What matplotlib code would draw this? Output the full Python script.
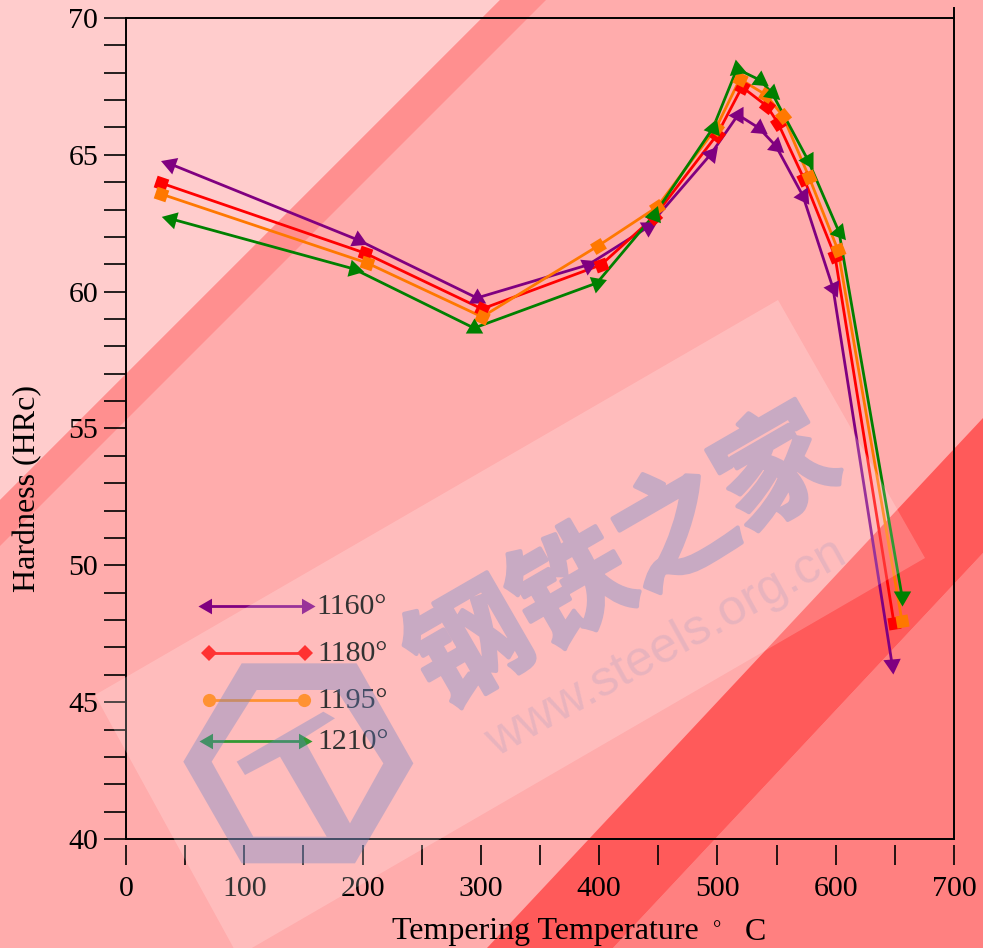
import math
import matplotlib
matplotlib.use('Agg')
import matplotlib.pyplot as plt
import matplotlib.patches as patches
import matplotlib.patheffects as pe
from matplotlib.path import Path
from matplotlib.ticker import MultipleLocator

plt.rcParams['font.family'] = ['Liberation Serif', 'DejaVu Sans']

W, H = 983, 948

# Valores
temp_1160 = [37.2, 196.1, 296.7, 390.6, 441.3, 494.5, 517.4, 535.1, 549.5, 572.3, 597.7, 647.6]
hard_1160 = [64.67, 61.89, 59.77, 60.98, 62.36, 65.03, 66.46, 65.98, 65.32, 63.5, 60.13, 46.4]
temp_1180 = [29.6, 202.0, 301.0, 401.6, 446.4, 499.6, 520.8, 541.9, 551.2, 573.2, 599.4, 649.2]
hard_1180 = [63.97, 61.41, 59.37, 60.98, 62.73, 65.73, 67.48, 66.78, 66.16, 64.12, 61.3, 47.9]
temp_1195 = [29.6, 203.7, 301.0, 399.0, 448.9, 498.8, 519.0, 541.0, 555.4, 577.4, 601.9, 656.0]
hard_1195 = [63.57, 61.05, 59.08, 61.67, 63.09, 65.98, 67.77, 67.19, 66.42, 64.19, 61.52, 47.97]
temp_1210 = [38.0, 192.7, 294.2, 398.2, 446.4, 496.2, 516.5, 536.0, 546.1, 576.5, 602.8, 656.0]
hard_1210 = [62.66, 60.83, 58.67, 60.32, 62.8, 65.98, 68.14, 67.73, 67.26, 64.81, 62.18, 48.88]

legend_labels = ['1160°', '1180°', '1195°', '1210°']
x_tick_labels = ['0', '100', '200', '300', '400', '500', '600', '700']
y_tick_labels = ['40', '45', '50', '55', '60', '65', '70']

# Hacia donde apunta cada triangulo (grados en pantalla)
giro_1160 = [160, 95, 90, -95, -90, 50, 60, -35, -40, -55, -65, -85]
giro_1210 = [165, -14, 90, 20, 190, 190, 100, -35, -40, 180, 190, -90]

morado, rojo, naranja, verde = 'purple', 'red', '#ff7800', 'green'
grosor = 2.0

fig = plt.figure(figsize=(W / 100, H / 100), dpi=100, facecolor='#ffacac')

# Fondo con las bandas diagonales, en pixeles
fondo = fig.add_axes([0, 0, 1, 1], zorder=0)
fondo.set_xlim(0, W)
fondo.set_ylim(H, 0)
fondo.axis('off')
fondo.add_patch(patches.Polygon([(0, 0), (500, 0), (0, 500)], fc='#ffcccc', ec='none'))
fondo.add_patch(patches.Polygon([(500, 0), (546, 0), (0, 546), (0, 500)], fc='#ff8f8f', ec='none'))
fondo.add_patch(patches.Polygon([(983, 553), (983, 948), (613, 948)], fc='#ff8080', ec='none'))
fondo.add_patch(patches.Polygon([(983, 418), (983, 553), (613, 948), (487, 948)], fc='#ff5a5a', ec='none'))

# Ejes
ax = fig.add_axes([126 / W, (H - 839) / H, 828 / W, 821 / H], zorder=1)
ax.patch.set_alpha(0)
ax.set_xlim(0, 700)
ax.set_ylim(40, 70)
for s in ax.spines.values():
    s.set_linewidth(1.4)
ax.plot([1, 1], [1, 1.012], color='black', lw=1.4, transform=ax.transAxes, clip_on=False)

ax.yaxis.set_major_locator(MultipleLocator(5))
ax.yaxis.set_minor_locator(MultipleLocator(1))
ax.set_yticks(range(40, 71, 5), y_tick_labels, fontsize=21.5)
ax.tick_params(axis='y', which='both', length=16, width=1.2, pad=4)
ax.tick_params(axis='x', which='both', bottom=False, labelbottom=False)

# Las marcas de x van separadas del eje
sec = ax.secondary_xaxis(-6 / 821)
sec.spines['bottom'].set_visible(False)
sec.set_xticks(range(0, 701, 100), x_tick_labels, fontsize=21.5)
sec.xaxis.set_minor_locator(MultipleLocator(50))
sec.tick_params(axis='x', which='both', length=14.5, width=1.2, pad=7.5)


def a_pixeles(xs, ys):
    return [ax.transData.transform((x, y)) for x, y in zip(xs, ys)]


def dibujar_triangulos(xs, ys, color, giros):
    ax.plot(xs, ys, color=color, lw=grosor, zorder=3, clip_on=False)
    for x, y, g in zip(xs, ys, giros):
        ax.plot([x], [y], marker=(3, 0, g - 90), ms=14.5, color=color, mew=0, zorder=4, clip_on=False)


def dibujar_cuadros(xs, ys, color):
    ax.plot(xs, ys, color=color, lw=grosor, zorder=3, clip_on=False)
    pix = a_pixeles(xs, ys)
    for i, (x, y) in enumerate(zip(xs, ys)):
        a, b = pix[max(i - 1, 0)], pix[max(i, 1)]
        giro = math.degrees(math.atan2(b[1] - a[1], b[0] - a[0]))
        ax.plot([x], [y], marker=(4, 0, 45 + giro), ms=12.5, color=color, mew=0, zorder=4, clip_on=False)


dibujar_triangulos(temp_1160, hard_1160, morado, giro_1160)
dibujar_cuadros(temp_1180, hard_1180, rojo)
dibujar_cuadros(temp_1195, hard_1195, naranja)
dibujar_triangulos(temp_1210, hard_1210, verde, giro_1210)

# Titulos de los ejes
fig.text(28 / W, 1 - 488 / H, 'Hardness (HRc)', rotation=90, fontsize=23, ha='center', va='center', zorder=6)
fig.text(392 / W, 1 - 932 / H, 'Tempering Temperature', fontsize=23, ha='left', va='center', zorder=6)
fig.text(717 / W, 1 - 931 / H, '°', fontsize=15, ha='center', va='center', zorder=6)
fig.text(755 / W, 1 - 932 / H, 'C', fontsize=23, ha='center', va='center', zorder=6)

# Leyenda a mano
ley = fig.add_axes([0, 0, 1, 1], zorder=2)
ley.set_xlim(0, W)
ley.set_ylim(H, 0)
ley.axis('off')
filas = [
    (606, 207, 306, morado, (3, 0, 90), (3, 0, -90), 13, 316),
    (653, 209, 305, rojo, 'D', 'D', 8.5, 317),
    (700, 209, 304, naranja, 'o', 'o', 9.5, 317),
    (741, 208, 303, verde, (3, 0, 90), (3, 0, -90), 13, 317),
]
for (yy, x0, x1, c, m0, m1, ms, xt), etiqueta in zip(filas, legend_labels):
    ley.plot([x0, x1], [yy, yy], color=c, lw=grosor)
    ley.plot([x0], [yy], marker=m0, ms=ms, color=c, mew=0)
    ley.plot([x1], [yy], marker=m1, ms=ms, color=c, mew=0)
    ley.text(xt, yy + 1, etiqueta, fontsize=21.5, ha='left', va='center')

# Marca de agua por encima de todo
capa = fig.add_axes([0, 0, 1, 1], zorder=5)
capa.set_xlim(0, W)
capa.set_ylim(H, 0)
capa.axis('off')
capa.patch.set_alpha(0)
capa.add_patch(patches.Polygon([(95, 695), (778, 300), (925, 558), (238, 956)], fc='white', alpha=0.2, ec='none'))

tinta = (100 / 255, 130 / 255, 200 / 255)
capa.text(625, 562, '钢铁之家', family=['Noto Sans CJK SC', 'DejaVu Sans'], fontweight='bold', fontsize=85,
          rotation=30, rotation_mode='anchor', ha='center', va='center', color='#c8aac3',
          path_effects=[pe.withStroke(linewidth=3, foreground='#c8aac3')])
capa.text(666, 648, 'www.steels.org.cn', family=['Liberation Sans'], fontsize=36,
          rotation=29, rotation_mode='anchor', ha='center', va='center', color=tinta, alpha=0.15)


def z(p):
    return (170 + p[0] / 3, 640 + p[1] / 3)


exterior = [(40, 365), (215, 70), (560, 70), (730, 370), (555, 670), (215, 670)]
interior = [(125, 365), (250, 590), (470, 590), (330, 350), (225, 405), (200, 365), (460, 215), (495, 235),
            (400, 295), (540, 550), (640, 370), (500, 150), (260, 150)]
vertices = [z(p) for p in exterior] + [z(exterior[0])] + [z(p) for p in interior] + [z(interior[0])]
codigos = ([Path.MOVETO] + [Path.LINETO] * (len(exterior) - 1) + [Path.CLOSEPOLY]
           + [Path.MOVETO] + [Path.LINETO] * (len(interior) - 1) + [Path.CLOSEPOLY])
capa.add_patch(patches.PathPatch(Path(vertices, codigos), fc=tinta, ec='none', alpha=0.35))

fig.savefig('out.png', dpi=100)
